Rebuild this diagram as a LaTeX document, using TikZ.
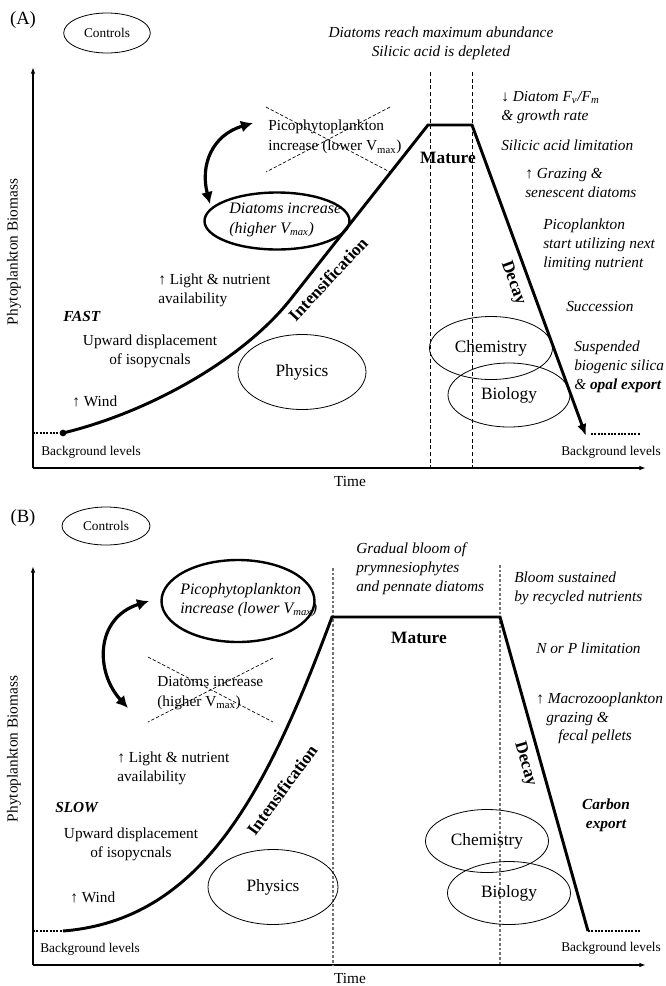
\documentclass[tikz,border=0pt]{standalone}
\usepackage{fontspec}
\setmainfont{Liberation Serif}
\usetikzlibrary{shapes.geometric,arrows.meta}
\begin{document}
\begin{tikzpicture}[x=0.75pt,y=-0.75pt,
 rmtxt/.style={inner sep=0pt, font=\fontsize{11.5}{14.25}\selectfont},
 ittxt/.style={inner sep=0pt, font=\fontsize{11.5}{14.25}\selectfont\itshape},
 bitxt/.style={inner sep=0pt, font=\fontsize{11.5}{14.25}\selectfont\bfseries\itshape},
 bdtxt/.style={inner sep=0pt, font=\fontsize{13}{15}\selectfont\bfseries},
 smtxt/.style={inner sep=0pt, font=\fontsize{10}{12}\selectfont},
 paneltxt/.style={inner sep=0pt, font=\fontsize{14}{16}\selectfont},
 ell/.style={ellipse, draw, line width=0.6pt, inner sep=0pt, font=\fontsize{13}{15}\selectfont},
 ctlell/.style={ellipse, draw, line width=0.6pt, inner sep=0pt, font=\fontsize{10}{12}\selectfont},
 thickell/.style={ellipse, draw, line width=1.8pt, inner sep=0pt},
 axisline/.style={line width=1pt, -{Latex[length=5pt,width=3.5pt]}},
 bloomline/.style={line width=2.2pt},
 bgline/.style={line width=1.5pt, dash pattern=on 1.5pt off 1pt},
 phaseline/.style={line width=0.6pt, dash pattern=on 3pt off 2pt},
 phaselineB/.style={line width=0.8pt, black!55, dash pattern=on 2pt off 1.5pt},
 xline/.style={line width=0.5pt, dash pattern=on 2.5pt off 1.5pt},
 dblarrow/.style={line width=2.4pt, {Latex[length=9pt,width=9pt]}-{Latex[length=9pt,width=9pt]}},
 dotnode/.style={circle, fill, inner sep=0pt, minimum size=5pt},
]
\useasboundingbox (0,0) rectangle (666,986);

% ================= Panel A =================
\node[paneltxt] (labA) at (23,20) {(A)};
\node[ctlell, minimum width=65pt, minimum height=30pt] (ctlA) at (107,33) {Controls};

\coordinate (oA) at (33,468);
\coordinate (yA) at (33,67);
\coordinate (xA) at (646,468);
\draw[axisline] (oA) -- (yA);
\draw[axisline] (oA) -- (xA);
\node[rmtxt, rotate=90] (ylabA) at (14,252) {Phytoplankton Biomass};
\node[rmtxt] (timeA) at (350,481) {Time};

\coordinate (d1tA) at (430,72); \coordinate (d1bA) at (430,468);
\coordinate (d2tA) at (472,72); \coordinate (d2bA) at (472,468);
\draw[phaseline] (d1tA) -- (d1bA);
\draw[phaseline] (d2tA) -- (d2bA);

\coordinate (b0A) at (33,433);
\node[dotnode] (dotA) at (63,433) {};
\coordinate (kA) at (290,300);
\coordinate (tlA) at (428,125);
\coordinate (trA) at (472,125);
\coordinate (brA) at (586,436);
\coordinate (e1A) at (591,434);
\coordinate (e2A) at (640,434);
\draw[bgline] (b0A) -- (dotA.center);
\draw[bloomline, -{Latex[length=9pt,width=7pt]}] (dotA.center) .. controls (150,412) and (243,359) .. (kA) -- (tlA) -- (trA) -- (brA);
\draw[bgline] (e1A) -- (e2A);

\node[ell, minimum width=96pt, minimum height=56.25pt] (physA) at (302,372) {Physics};
\node[ell, minimum width=92.25pt, minimum height=47.25pt] (chemA) at (491,348) {Chemistry};
\node[ell, minimum width=91.5pt, minimum height=48pt] (bioA) at (509,395) {Biology};

\node[thickell, minimum width=108.75pt, minimum height=42.75pt] (diaEA) at (277,221) {};
\node[inner sep=0pt, font=\fontsize{12}{15}\selectfont\itshape, align=left, anchor=west] (diaTA) at (229,220) {Diatoms increase\\(higher V\textsubscript{max})};

\node[inner sep=0pt, font=\fontsize{11.5}{15}\selectfont, align=left, anchor=west] (picoA) at (268,137) {Picophytoplankton\\increase (lower V\textsubscript{max})};
\coordinate (c1A) at (266,107); \coordinate (c2A) at (390,172);
\coordinate (c3A) at (390,107); \coordinate (c4A) at (266,172);
\draw[xline] (c1A) -- (c2A);
\draw[xline] (c3A) -- (c4A);

\coordinate (arAt) at (253,123);
\coordinate (arAb) at (210,204);
\draw[dblarrow] (arAb) .. controls (200,165) and (212,135) .. (arAt);

\node[bdtxt, rotate=47] (intA) at (328,279) {Intensification};
\node[bdtxt] (matA) at (448,158) {Mature};
\node[bdtxt, rotate=-70] (decA) at (513,283) {Decay};

\node[ittxt, align=center] (topA) at (441,43) {Diatoms reach maximum abundance\\Silicic acid is depleted};
\node[ittxt, align=left, anchor=west] (fvA) at (501,107.5) {↓ Diatom F\textsubscript{v}/F\textsubscript{m}\\\& growth rate};
\node[ittxt, anchor=west] (silA) at (501,145) {Silicic acid limitation};
\node[ittxt, align=left, anchor=west] (grzA) at (525,183) {↑ Grazing \&\\senescent diatoms};
\node[ittxt, align=left, anchor=west] (pcA) at (543,245) {Picoplankton\\start utilizing next\\limiting nutrient};
\node[ittxt, anchor=west] (sucA) at (566,307) {Succession};
\node[ittxt, align=left, anchor=west] (susA) at (574,367) {Suspended\\biogenic silica\\\& \textbf{opal export}};

\node[rmtxt, align=left, anchor=west] (lightA) at (158,290) {↑ Light \& nutrient\\availability};
\node[bitxt, anchor=west] (fastA) at (63,316) {FAST};
\node[rmtxt, align=center] (upA) at (150,351.5) {Upward displacement\\of isopycnals};
\node[rmtxt, anchor=west] (windA) at (72,401) {↑ Wind};
\node[smtxt, anchor=west] (bglA) at (41,452) {Background levels};
\node[smtxt, anchor=west] (bgrA) at (561,452) {Background levels};

% ================= Panel B =================
\node[paneltxt] (labB) at (23,518) {(B)};
\node[ctlell, minimum width=66pt, minimum height=28.5pt] (ctlB) at (106,526) {Controls};

\coordinate (oB) at (33,965);
\coordinate (yB) at (33,566);
\coordinate (xB) at (646,965);
\draw[axisline] (oB) -- (yB);
\draw[axisline] (oB) -- (xB);
\node[rmtxt, rotate=90] (ylabB) at (14,749) {Phytoplankton Biomass};
\node[rmtxt] (timeB) at (350,978) {Time};

\coordinate (d1tB) at (333,568); \coordinate (d1bB) at (333,965);
\coordinate (d2tB) at (500,565); \coordinate (d2bB) at (500,965);
\draw[phaselineB] (d1tB) -- (d1bB);
\draw[phaselineB] (d2tB) -- (d2bB);

\coordinate (b0B) at (33,931);
\coordinate (b1B) at (63,931);
\coordinate (tlB) at (332,617);
\coordinate (trB) at (500,617);
\coordinate (brB) at (588,931);
\coordinate (e2B) at (640,931);
\draw[bgline] (b0B) -- (b1B);
\draw[bloomline] (b1B) .. controls (200,920) and (265,797) .. (tlB) -- (trB) -- (brB);
\draw[bgline] (brB) -- (e2B);

\node[ell, minimum width=97.5pt, minimum height=56.25pt] (physB) at (273,887) {Physics};
\node[ell, minimum width=92.25pt, minimum height=47.25pt] (chemB) at (487,841) {Chemistry};
\node[ell, minimum width=92.25pt, minimum height=47.25pt] (bioB) at (509,893) {Biology};

\node[thickell, minimum width=114.75pt, minimum height=61.5pt] (picoEB) at (238,601) {};
\node[inner sep=0pt, font=\fontsize{12}{14}\selectfont\itshape, align=left, anchor=west] (picoTB) at (180,600) {Picophytoplankton\\increase (lower V\textsubscript{max})};

\node[inner sep=0pt, font=\fontsize{11.5}{15}\selectfont, align=left, anchor=west] (diaB) at (157,693) {Diatoms increase\\(higher V\textsubscript{max})};
\coordinate (c1B) at (148,657); \coordinate (c2B) at (273,722);
\coordinate (c3B) at (273,658); \coordinate (c4B) at (148,722);
\draw[xline] (c1B) -- (c2B);
\draw[xline] (c3B) -- (c4B);

\coordinate (arBt) at (149,601);
\coordinate (arBb) at (128,708);
\draw[dblarrow] (arBb) .. controls (95,672) and (95,618) .. (arBt);

\node[bdtxt, rotate=54] (intB) at (282,790) {Intensification};
\node[bdtxt] (matB) at (419,638) {Mature};
\node[bdtxt, rotate=-74] (decB) at (525,764) {Decay};

\node[ittxt, align=left, anchor=west] (topB) at (356,569) {Gradual bloom of\\prymnesiophytes\\and pennate diatoms};
\node[ittxt, align=left, anchor=west] (bloomB) at (514,588) {Bloom sustained\\by recycled nutrients};
\node[ittxt, anchor=west] (npB) at (536,648) {N or P limitation};
\node[ittxt, anchor=west] (mac1B) at (536,700) {↑ Macrozooplankton};
\node[ittxt, anchor=west] (mac2B) at (546,719) {grazing \&};
\node[ittxt, anchor=west] (mac3B) at (558,737) {fecal pellets};
\node[bitxt, align=center] (carbB) at (606,815) {Carbon\\export};

\node[rmtxt, align=left, anchor=west] (lightB) at (117,768) {↑ Light \& nutrient\\availability};
\node[bitxt, anchor=west] (slowB) at (55,808) {SLOW};
\node[rmtxt, align=center] (upB) at (131,844) {Upward displacement\\of isopycnals};
\node[rmtxt, anchor=west] (windB) at (70,897) {↑ Wind};
\node[smtxt, anchor=west] (bglB) at (40,949) {Background levels};
\node[smtxt, anchor=west] (bgrB) at (561,948) {Background levels};
\end{tikzpicture}
\end{document}
